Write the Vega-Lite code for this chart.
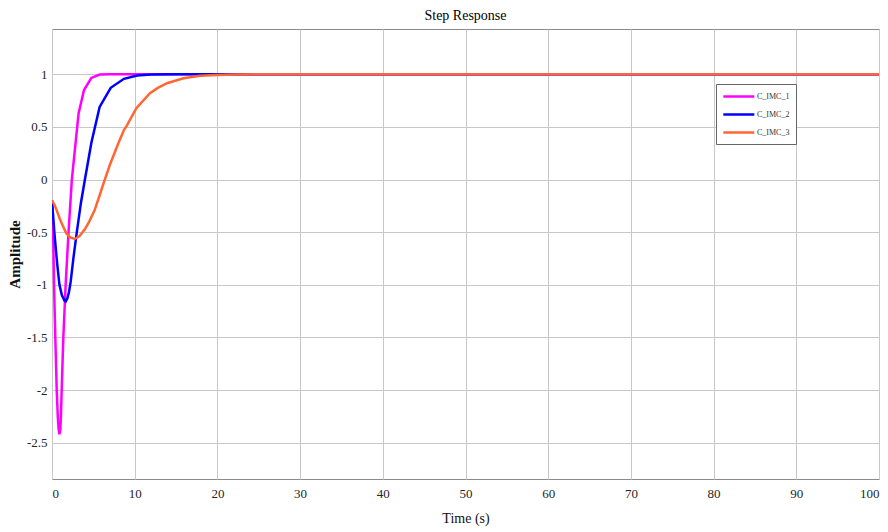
{
  "$schema": "https://vega.github.io/schema/vega-lite/v6.json",
  "width": 827,
  "height": 450,
  "autosize": {"type": "none"},
  "padding": {"left": 52, "top": 29, "right": 9, "bottom": 53},
  "title": {"text": "Step Response", "font": "Liberation Serif", "fontSize": 14, "fontWeight": "normal", "color": "#000", "offset": 6},
  "config": {
    "view": {"stroke": "#8a8a8a", "strokeWidth": 1},
    "axis": {"labelFont": "Liberation Serif", "titleFont": "Liberation Serif", "labelFontSize": 13, "titleFontSize": 14, "labelColor": "#262626", "titleColor": "#111", "gridColor": "#c8c8c8", "gridWidth": 1, "domain": false, "ticks": false}
  },
  "data": {"values": [
    {"s":"C_IMC_1","t":0,"y":-0.2},
    {"s":"C_IMC_1","t":0.08,"y":-0.35},
    {"s":"C_IMC_1","t":0.16,"y":-0.6},
    {"s":"C_IMC_1","t":0.24,"y":-0.98},
    {"s":"C_IMC_1","t":0.4,"y":-1.5},
    {"s":"C_IMC_1","t":0.57,"y":-2.0},
    {"s":"C_IMC_1","t":0.7,"y":-2.25},
    {"s":"C_IMC_1","t":0.8,"y":-2.37},
    {"s":"C_IMC_1","t":0.9,"y":-2.42},
    {"s":"C_IMC_1","t":1.0,"y":-2.38},
    {"s":"C_IMC_1","t":1.08,"y":-2.25},
    {"s":"C_IMC_1","t":1.17,"y":-2.0},
    {"s":"C_IMC_1","t":1.37,"y":-1.5},
    {"s":"C_IMC_1","t":1.65,"y":-1.0},
    {"s":"C_IMC_1","t":2.0,"y":-0.5},
    {"s":"C_IMC_1","t":2.4,"y":0.0},
    {"s":"C_IMC_1","t":3.06,"y":0.51},
    {"s":"C_IMC_1","t":3.22,"y":0.63},
    {"s":"C_IMC_1","t":3.87,"y":0.85},
    {"s":"C_IMC_1","t":4.76,"y":0.965},
    {"s":"C_IMC_1","t":5.76,"y":0.997},
    {"s":"C_IMC_1","t":7,"y":1.0},
    {"s":"C_IMC_1","t":100,"y":1.0},
    {"s":"C_IMC_2","t":0,"y":-0.2},
    {"s":"C_IMC_2","t":0.15,"y":-0.36},
    {"s":"C_IMC_2","t":0.28,"y":-0.5},
    {"s":"C_IMC_2","t":0.6,"y":-0.78},
    {"s":"C_IMC_2","t":0.9,"y":-1.0},
    {"s":"C_IMC_2","t":1.2,"y":-1.1},
    {"s":"C_IMC_2","t":1.5,"y":-1.15},
    {"s":"C_IMC_2","t":1.65,"y":-1.16},
    {"s":"C_IMC_2","t":1.85,"y":-1.13},
    {"s":"C_IMC_2","t":2.05,"y":-1.07},
    {"s":"C_IMC_2","t":2.26,"y":-0.97},
    {"s":"C_IMC_2","t":2.6,"y":-0.74},
    {"s":"C_IMC_2","t":3.0,"y":-0.5},
    {"s":"C_IMC_2","t":3.5,"y":-0.22},
    {"s":"C_IMC_2","t":3.98,"y":0.0},
    {"s":"C_IMC_2","t":4.76,"y":0.35},
    {"s":"C_IMC_2","t":5.76,"y":0.69},
    {"s":"C_IMC_2","t":7.1,"y":0.871},
    {"s":"C_IMC_2","t":8.7,"y":0.957},
    {"s":"C_IMC_2","t":10.3,"y":0.988},
    {"s":"C_IMC_2","t":12,"y":0.997},
    {"s":"C_IMC_2","t":15,"y":1.0},
    {"s":"C_IMC_2","t":100,"y":1.0},
    {"s":"C_IMC_3","t":0,"y":-0.2},
    {"s":"C_IMC_3","t":0.3,"y":-0.24},
    {"s":"C_IMC_3","t":0.6,"y":-0.3},
    {"s":"C_IMC_3","t":0.93,"y":-0.37},
    {"s":"C_IMC_3","t":1.3,"y":-0.44},
    {"s":"C_IMC_3","t":1.73,"y":-0.51},
    {"s":"C_IMC_3","t":2.2,"y":-0.55},
    {"s":"C_IMC_3","t":2.74,"y":-0.565},
    {"s":"C_IMC_3","t":3.3,"y":-0.54},
    {"s":"C_IMC_3","t":3.95,"y":-0.475},
    {"s":"C_IMC_3","t":4.5,"y":-0.4},
    {"s":"C_IMC_3","t":5.16,"y":-0.29},
    {"s":"C_IMC_3","t":5.8,"y":-0.14},
    {"s":"C_IMC_3","t":6.3,"y":-0.02},
    {"s":"C_IMC_3","t":7.0,"y":0.14},
    {"s":"C_IMC_3","t":8.0,"y":0.34},
    {"s":"C_IMC_3","t":8.7,"y":0.47},
    {"s":"C_IMC_3","t":9.03,"y":0.51},
    {"s":"C_IMC_3","t":10.2,"y":0.677},
    {"s":"C_IMC_3","t":11.85,"y":0.82},
    {"s":"C_IMC_3","t":12.8,"y":0.87},
    {"s":"C_IMC_3","t":13.9,"y":0.915},
    {"s":"C_IMC_3","t":15.9,"y":0.962},
    {"s":"C_IMC_3","t":17.9,"y":0.985},
    {"s":"C_IMC_3","t":19.9,"y":0.994},
    {"s":"C_IMC_3","t":22,"y":0.998},
    {"s":"C_IMC_3","t":25,"y":1.0},
    {"s":"C_IMC_3","t":100,"y":1.0}
  ]},
  "mark": {"type": "line", "strokeWidth": 2.5, "clip": true},
  "encoding": {
    "x": {"field": "t", "type": "quantitative", "scale": {"domain": [0, 100], "nice": false, "zero": false},
      "axis": {"title": "Time (s)", "values": [0,10,20,30,40,50,60,70,80,90,100], "labelExpr": "datum.value + ''", "labelFont": "Liberation Serif", "labelFontSize": 13, "labelPadding": 8, "titlePadding": 11, "titleFont": "Liberation Serif", "titleFontWeight": "normal"}},
    "y": {"field": "y", "type": "quantitative", "scale": {"domain": [-2.845, 1.43], "nice": false, "zero": false},
      "axis": {"title": "Amplitude", "values": [-2.5,-2,-1.5,-1,-0.5,0,0.5,1], "labelExpr": "datum.value + ''", "labelFont": "Liberation Serif", "labelFontSize": 13, "labelPadding": 5, "titlePadding": 4, "titleFont": "Liberation Serif", "titleFontWeight": "bold", "titleFontSize": 15}},
    "color": {"field": "s", "type": "nominal",
      "scale": {"domain": ["C_IMC_1","C_IMC_2","C_IMC_3"], "range": ["#FF00FF","#0000FF","#FF6633"]},
      "legend": {"title": null, "orient": "none", "legendX": 664, "legendY": 55, "symbolType": "M-1,0H5", "symbolSize": 107, "symbolStrokeWidth": 2.5, "labelFont": "Liberation Serif", "labelFontSize": 8, "labelColor": "#333", "strokeColor": "#666", "fillColor": "#fff", "padding": 6, "rowPadding": 6, "labelOffset": 22}}
  }
}
